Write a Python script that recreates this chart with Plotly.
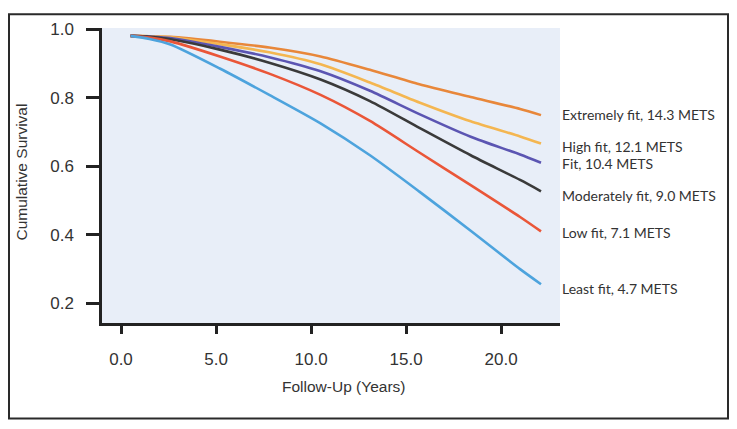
import plotly.graph_objects as go

# ---- data ----
years = [0.5, 1.5, 2.6, 5.2, 7.8, 10.5, 13.1, 15.7, 18.4, 21.0, 22.1]

series_names = [
    "Extremely fit, 14.3 METS",
    "High fit, 12.1 METS",
    "Fit, 10.4 METS",
    "Moderately fit, 9.0 METS",
    "Low fit, 7.1 METS",
    "Least fit, 4.7 METS",
]
extremely_fit = [0.980, 0.979, 0.977, 0.963, 0.946, 0.920, 0.881, 0.839, 0.802, 0.767, 0.749]
high_fit      = [0.980, 0.979, 0.976, 0.956, 0.932, 0.897, 0.844, 0.786, 0.731, 0.687, 0.666]
fit           = [0.980, 0.978, 0.974, 0.948, 0.918, 0.877, 0.820, 0.752, 0.686, 0.634, 0.610]
moderate_fit  = [0.980, 0.977, 0.970, 0.940, 0.902, 0.853, 0.790, 0.712, 0.632, 0.560, 0.527]
low_fit       = [0.980, 0.975, 0.964, 0.920, 0.870, 0.808, 0.732, 0.640, 0.545, 0.452, 0.410]
least_fit     = [0.980, 0.971, 0.955, 0.885, 0.808, 0.725, 0.632, 0.526, 0.412, 0.300, 0.256]

x_ticks = [0, 5, 10, 15, 20]
y_ticks = [0.2, 0.4, 0.6, 0.8, 1.0]

colors = ["#E8873A", "#F4B651", "#5B55B2", "#3A3A3A", "#EA5638", "#4DA3DD"]

# ---- geometry (page body has an 8px margin, so figure px = window px - 8) ----
OFF = 8
W, H = 737 - OFF, 429 - OFF
L, R, T, B = 102 - OFF, 560 - OFF, 23 - OFF, 323 - OFF
def px_x(p):
    return (p - OFF - L) / (R - L)
def px_y(p):
    return (B - (p - OFF)) / (B - T)

label_y_px = [111, 144, 161, 193, 231, 288]

fig = go.Figure()
all_series = [extremely_fit, high_fit, fit, moderate_fit, low_fit, least_fit]
for name, vals, col in zip(series_names, all_series, colors):
    fig.add_trace(go.Scatter(
        x=years, y=vals, mode="lines", name=name,
        line=dict(color=col, width=2.6, shape="spline", smoothing=0.7),
        showlegend=False,
    ))

annotations = []
for name, ypx in zip(series_names, label_y_px):
    annotations.append(dict(
        x=px_x(560), y=px_y(ypx), xref="paper", yref="paper",
        text=name, showarrow=False, xanchor="left", yanchor="middle",
        font=dict(family="Lato", size=14, color="#333333"),
    ))
annotations.append(dict(
    x=px_x(343), y=px_y(388), xref="paper", yref="paper",
    text="Follow-Up (Years)", showarrow=False, xanchor="center", yanchor="middle",
    font=dict(family="Liberation Sans", size=15.5, color="#333333"),
))
annotations.append(dict(
    x=px_x(22), y=px_y(170), xref="paper", yref="paper",
    text="Cumulative Survival", showarrow=False, textangle=-90,
    xanchor="center", yanchor="middle",
    font=dict(family="Liberation Sans", size=15.5, color="#333333"),
))

shapes = [
    dict(type="rect", xref="paper", yref="paper",
         x0=px_x(9), x1=px_x(728), y0=px_y(9), y1=px_y(420),
         line=dict(color="#2a2a2a", width=2), fillcolor="rgba(0,0,0,0)", layer="below"),
]

fig.update_layout(
    width=W, height=H,
    margin=dict(l=L, r=W - R, t=T, b=H - B, pad=0),
    paper_bgcolor="white", plot_bgcolor="#E8EEF8",
    annotations=annotations, shapes=shapes,
    xaxis=dict(
        range=[-1.0, 23.1], tickvals=x_ticks, tickformat=".1f",
        showgrid=False, zeroline=False, showline=True, linecolor="#222222", linewidth=2.5,
        ticks="outside", ticklen=8, tickwidth=2.5, tickcolor="#222222",
        ticklabelstandoff=11,
        tickfont=dict(family="Liberation Sans", size=17, color="#333333"),
    ),
    yaxis=dict(
        range=[0.143, 1.003], tickvals=y_ticks, tickformat=".1f",
        showgrid=False, zeroline=False, showline=True, linecolor="#222222", linewidth=2.5,
        ticks="outside", ticklen=13, tickwidth=2.5, tickcolor="#222222",
        ticklabelstandoff=9,
        tickfont=dict(family="Liberation Sans", size=17, color="#333333"),
    ),
)

fig.write_html("out.html")
